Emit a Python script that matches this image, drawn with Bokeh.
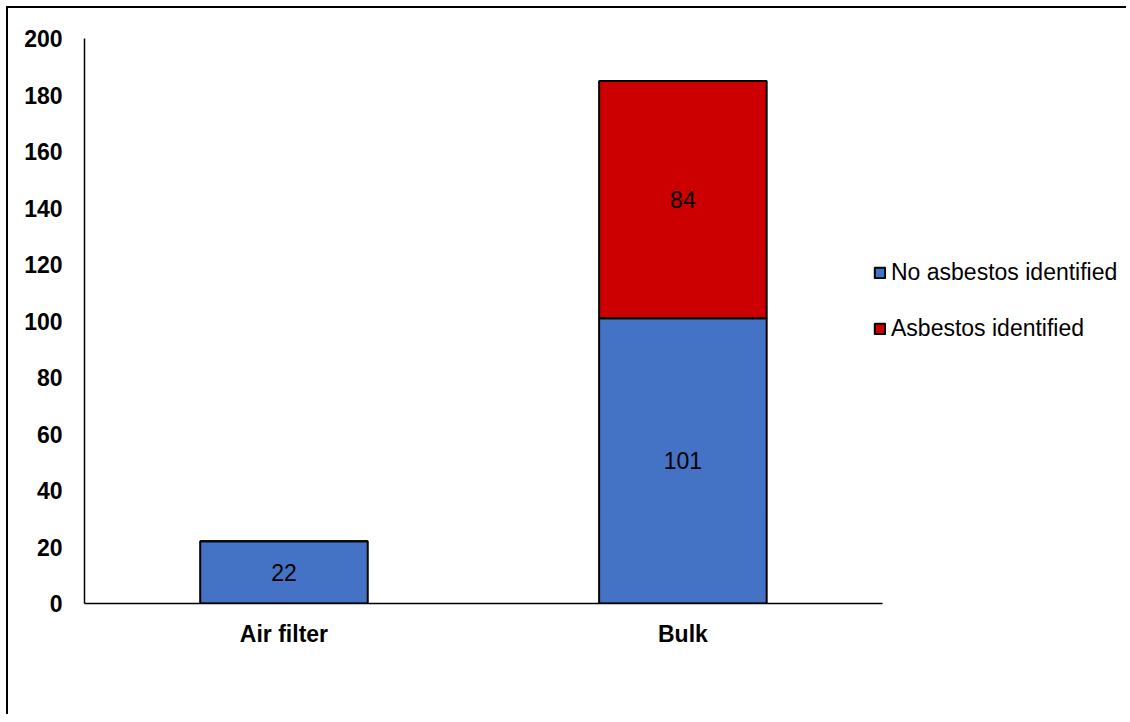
from bokeh.plotting import figure
from bokeh.models import ColumnDataSource, Legend, LegendItem, LabelSet, FixedTicker
from bokeh.embed import file_html
from bokeh.resources import INLINE
from bokeh.core.properties import value

categories = ["Air filter", "Bulk"]
no_asbestos = [22, 101]
asbestos = [0, 84]
series_names = ["No asbestos identified", "Asbestos identified"]
colors = ["#4472C4", "#CC0000"]
y_ticks = [0, 20, 40, 60, 80, 100, 120, 140, 160, 180, 200]

FONT = "Liberation Sans"
FS = "23px"

# category slots (one unit per category); extra room on the right holds the legend
xpos = [i + 0.5 for i in range(len(categories))]
x_end = len(categories) * 2.617 / 2

p = figure(x_range=(0, x_end), y_range=(0, 200), width=1120, height=708,
           output_backend="svg", toolbar_location=None,
           min_border_left=76, min_border_right=0, min_border_top=30, min_border_bottom=113)
p.styles = {"margin-left": "6px", "margin-top": "6px",
            "border-top": "2px solid black", "border-left": "2px solid black"}
p.outline_line_color = None
p.xgrid.grid_line_color = None
p.ygrid.grid_line_color = None

src = ColumnDataSource(dict(
    x=xpos,
    no=no_asbestos,
    yes=asbestos,
    no_mid=[v / 2 for v in no_asbestos],
    yes_mid=[n + a / 2 for n, a in zip(no_asbestos, asbestos)],
    no_lbl=[str(v) if v else "" for v in no_asbestos],
    yes_lbl=[str(v) if v else "" for v in asbestos],
))

r = p.vbar_stack(["no", "yes"], x="x", width=0.42, source=src, color=colors,
                 line_color="black", line_width=2)

for ycol, tcol in [("no_mid", "no_lbl"), ("yes_mid", "yes_lbl")]:
    p.add_layout(LabelSet(x="x", y=ycol, text=tcol, source=src, text_align="center",
                          text_baseline="middle", text_font=value(FONT),
                          text_font_size=FS, text_color="black"))

legend = Legend(items=[LegendItem(label=series_names[0], renderers=[r[0]]),
                       LegendItem(label=series_names[1], renderers=[r[1]])],
                location=(789, 261), border_line_color=None, background_fill_alpha=0,
                label_text_font=FONT, label_text_font_size=FS, label_text_color="black",
                glyph_width=13, glyph_height=13, label_height=28, spacing=28,
                label_standoff=5, padding=0, margin=0)
p.add_layout(legend, "center")

p.xaxis.ticker = FixedTicker(ticks=xpos)
p.xaxis.major_label_overrides = {x: c for x, c in zip(xpos, categories)}
p.xaxis.bounds = (0, len(categories))
p.yaxis.ticker = FixedTicker(ticks=y_ticks)
for ax in (p.xaxis[0], p.yaxis[0]):
    ax.major_tick_line_color = None
    ax.minor_tick_line_color = None
    ax.axis_line_color = "black"
    ax.axis_line_width = 1.5
    ax.major_label_text_font = FONT
    ax.major_label_text_font_size = FS
    ax.major_label_text_font_style = "bold"
    ax.major_label_text_color = "black"
p.yaxis.major_label_standoff = 16
p.xaxis.major_label_standoff = 11

open("out.html", "w").write(file_html(p, INLINE))
